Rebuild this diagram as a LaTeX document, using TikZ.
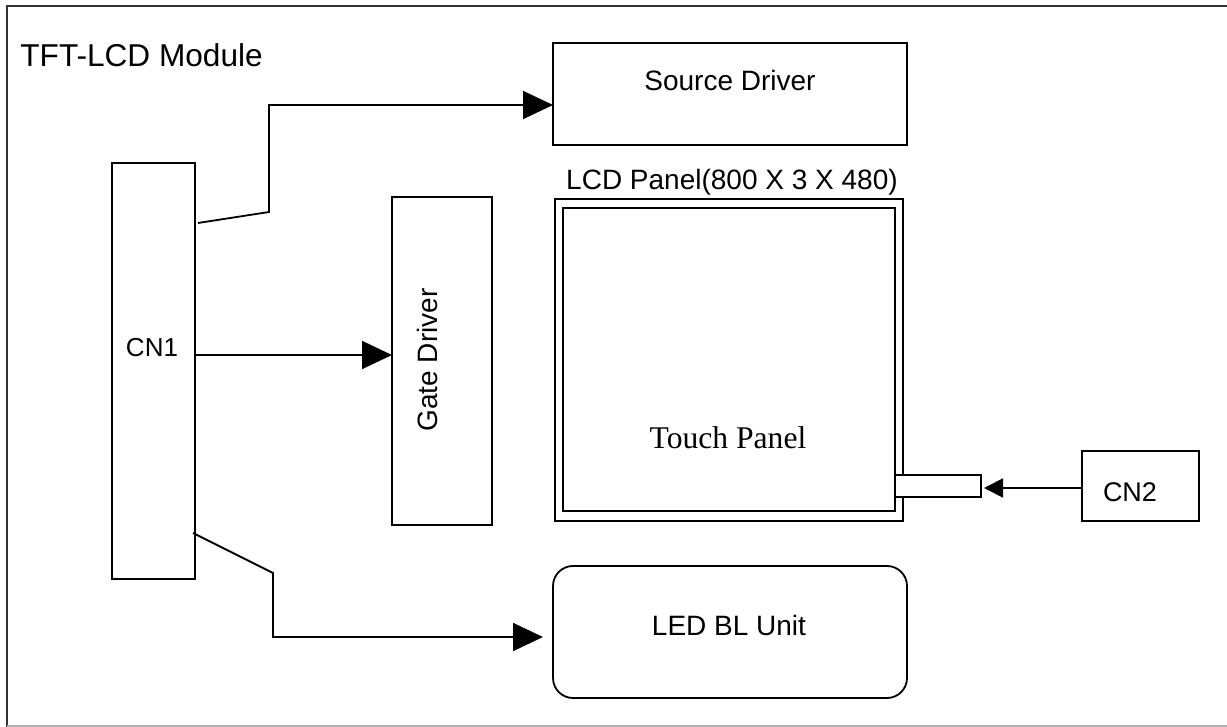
\documentclass[tikz,border=0pt]{standalone}
\usepackage{fontspec}
\setmainfont{Liberation Sans}
\newfontfamily\tpfont{Liberation Serif}
\usetikzlibrary{arrows.meta}

\begin{document}
\begin{tikzpicture}[x=0.5pt,y=-0.5pt,
  box/.style={draw, line width=0.9pt, inner sep=0pt, outer sep=0pt},
  lbl/.style={inner sep=0pt, font=\fontsize{14}{16}\selectfont},
  wire/.style={line width=0.9pt},
  big/.style={-{Triangle[length=15pt,width=14pt]}},
  small/.style={-{Triangle[length=9.5pt,width=9.5pt]}}]
\useasboundingbox (0,0) rectangle (1227,727);
% frame
\draw[line width=1.2pt, black!80] (1240,6) -| (7,740);
\draw[line width=1pt, black!30] (7,726) -- (1227,726);
\node[lbl, anchor=west, font=\fontsize{15.8}{18}\selectfont] (TITLE) at (20,55) {TFT-LCD Module};
% blocks
\node[box, minimum width=41.5pt, minimum height=208pt](CN1) at (153.5,371){};
\node[lbl, font=\fontsize{13}{15}\selectfont] at (152,348) {CN1};
\node[box, minimum width=177pt, minimum height=51pt](SD) at (730,94){};
\node[lbl] at (730,80) {Source Driver};
\node[box, minimum width=50pt, minimum height=164pt](GD) at (442,361){};
\node[lbl, rotate=90] at (427,360) {Gate Driver};
\node[lbl] (LCDT) at (732,182) {LCD Panel(800 X 3 X 480)};
\node[box, minimum width=174pt, minimum height=161pt](LCD) at (729,360){};
\node[box, fill=white, minimum width=43pt, minimum height=11pt](TAB) at (938,486){};
\node[box, minimum width=166pt, minimum height=151.5pt](TP) at (729,359.5){};
\node[lbl, font=\tpfont\fontsize{15.8}{18}\selectfont] at (728,438) {Touch Panel};
\node[box, minimum width=58.5pt, minimum height=35pt](CN2) at (1140.5,486){};
\node[lbl, font=\fontsize{13.5}{15}\selectfont] at (1130,492) {CN2};
\node[box, rounded corners=10pt, minimum width=177pt, minimum height=66pt](BL) at (730,632){};
\node[lbl] at (729,625) {LED BL Unit};
% connectors
\coordinate (J1) at (269,212);
\coordinate (J2) at (273,573);
\draw[wire, big] ([xshift=1.5pt]CN1.east |- 0,223) -- (J1) |- (SD.west |- 0,105);
\draw[wire, big] (CN1.east |- 0,355) -- (GD.west |- 0,355);
\draw[wire, big] ([xshift=-1pt]CN1.east |- 0,533) -- (J2) |- ([xshift=-5pt]BL.west |- 0,637);
\draw[wire, small] (CN2.west |- 0,488) -- ([xshift=1.5pt]TAB.east |- 0,488);
\end{tikzpicture}
\end{document}
